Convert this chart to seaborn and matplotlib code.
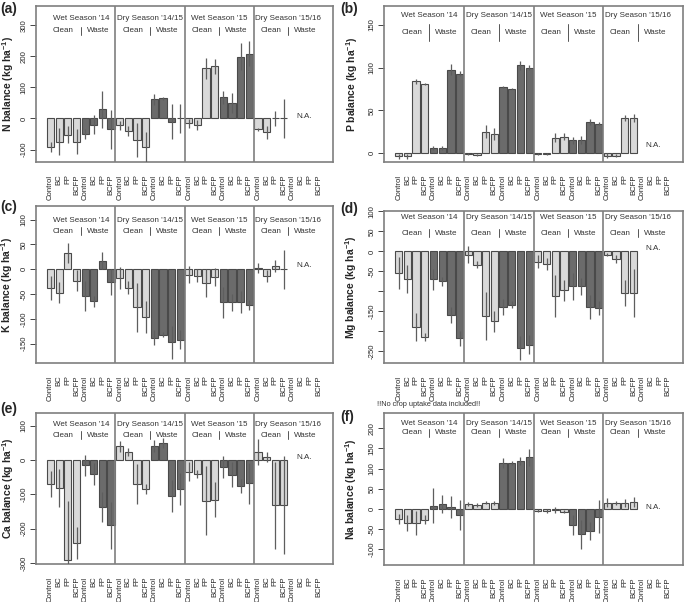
import numpy as np
import pandas as pd
import matplotlib
matplotlib.use("Agg")
import matplotlib.pyplot as plt
import matplotlib.transforms as mtransforms
import seaborn as sns

sns.set_style("white")
plt.rcParams['font.family'] = ['Liberation Sans', 'DejaVu Sans']
plt.rcParams['axes.unicode_minus'] = False
plt.rcParams['mathtext.fontset'] = 'custom'
plt.rcParams['mathtext.bf'] = 'Liberation Sans:bold'
plt.rcParams['mathtext.rm'] = 'Liberation Sans'
plt.rcParams['mathtext.default'] = 'bf'

# ---- data -------------------------------------------------------------
seasons = ["Wet Season '14", "Dry Season '14/15", "Wet Season '15", "Dry Season '15/16"]
groups = ["Clean", "Waste"]
treatments = ["Control", "BC", "FP", "BCFP"]
NA = np.nan

# order: season -> Clean(Control,BC,FP,BCFP) -> Waste(Control,BC,FP,BCFP)
n_mean = [-92, -75, -52, -75, -50, -20, 30, -35,
          -22, -40, -70, -92, 62, 65, -10, 0,
          -16, -21, 161, 168, 68, 50, 199, 209,
          -35, -45, 0, 0, NA, NA, NA, NA]
n_err = [17, 43, 28, 40, 15, 30, 60, 62,
         15, 15, 55, 48, 17, 5, 56, 48,
         15, 15, 33, 25, 22, 33, 43, 39,
         6, 20, 23, 63, NA, NA, NA, NA]

p_mean = [-4, -4, 84, 80.5, 6, 6, 97.6, 93,
          -1.5, -2.5, 25, 22.7, 77.3, 75.4, 102.7, 100,
          -1.5, -1.5, 18, 19, 15, 15.5, 36.3, 34.4,
          -3, -3, 41, 41, NA, NA, NA, NA]
p_err = [3, 3, 3, 1, 2, 2, 6, 3,
         1, 1, 8, 7, 1, 0.5, 5, 3,
         1, 1, 5, 4, 4, 5, 4, 2,
         3, 2, 4, 5, NA, NA, NA, NA]

k_mean = [-37.6, -47, 32, -23, -54, -65, 17.5, -25.5,
          -18, -37, -76.5, -96.6, -137.6, -132, -147, -142,
          -11.4, -13.4, -27, -16, -67, -67, -66, -72,
          2, -13, 6.7, 0, NA, NA, NA, NA]
k_err = [24, 21, 20, 21, 30, 11, 17, 26,
         22, 13, 49, 32, 16, 5, 33, 19,
         17, 13, 28, 18, 31, 18, 23, 11,
         10, 12, 12, 39, NA, NA, NA, NA]

mg_mean = [-54.5, -70, -188, -213, -70, -75, -160, -217,
           -8, -33, -161, -175, -139, -133, -242, -233,
           -25.6, -31, -112, -97.5, -87.6, -87.6, -139, -141,
           -8, -19, -104, -104, NA, NA, NA, NA]
mg_err = [40, 35, 35, 10, 26, 11, 20, 19,
          22, 8, 60, 27, 19, 9, 30, 24,
          16, 15, 53, 26, 33, 21, 29, 17,
          4, 9, 32, 60, NA, NA, NA, NA]

ca_mean = [-69, -82, -290, -241, -14.6, -40, -135.6, -190,
           41, 23.4, -69, -85, 41, 50, -104, -85,
           -34, -40, -118, -116, -20.5, -42, -75, -68,
           23.4, 8.8, -132, -132, NA, NA, NA, NA]
ca_err = [38, 55, 172, 46, 31, 32, 44, 68,
          16, 12, 58, 15, 18, 14, 47, 47,
          28, 12, 100, 51, 33, 36, 20, 60,
          38, 15, 128, 143, NA, NA, NA, NA]

na_mean = [-25, -35.7, -34, -27, 8.3, 11.6, 5, -15,
           11.6, 10.8, 15.8, 14, 113.6, 115, 119, 128.5,
           -4, -5, -2.5, -6.6, -40, -63, -54, -19,
           15.8, 14, 15.8, 18, NA, NA, NA, NA]
na_err = [12, 20, 30, 11, 43, 22, 27, 36,
          5, 5, 3, 5, 13, 5, 11, 21,
          4, 5, 8, 3, 25, 36, 22, 41,
          12, 5, 10, 12, NA, NA, NA, NA]

panel_letters = ["(a)", "(b)", "(c)", "(d)", "(e)", "(f)"]
elements = ["N", "P", "K", "Mg", "Ca", "Na"]
means = [n_mean, p_mean, k_mean, mg_mean, ca_mean, na_mean]
errs = [n_err, p_err, k_err, mg_err, ca_err, na_err]
y_ticks = [[-100, 0, 100, 200, 300],
           [0, 50, 100, 150],
           [-150, -100, -50, 0, 50, 100],
           [-250, -200, -150, -100, -50, 0, 50, 100],
           [-300, -200, -100, 0, 100],
           [-100, -50, 0, 50, 100, 150, 200]]
# R drops labels that would overlap; (d) shows only some of them
y_ticklabels = [[str(v) for v in t] for t in y_ticks]
y_ticklabels[3] = ["-250", "", "-150", "", "-50", "0", "50", "100"]
y_lims = [(-140, 362), (-10.5, 172), (-189, 127.5), (-279, 101), (-303, 137.6), (-139, 238)]
na_label_y = [5, 8.5, 6.7, 6, 8, 4]

# ---- layout (pixel boxes: left, top, right, bottom) ------------------
W, H = 685, 602
boxes = [(36, 6, 333, 162), (384, 6, 683, 162),
         (36, 206, 333, 363), (384, 211, 683, 363),
         (36, 413, 333, 564), (384, 413, 683, 565)]
letter_pos = [(0, 2), (340, 2), (0, 200), (340, 202), (0, 402), (340, 410)]
title_y = [0.921, 0.936, 0.91, 0.954, 0.927, 0.934]
sub_y = [0.84, 0.83, 0.84, 0.855, 0.854, 0.87]
sep_half = [0.025, 0.055, 0.027, 0.025, 0.025, 0.025]
ylab_x = [-0.069, -0.079, -0.070, -0.085, -0.069, -0.082]

clean_col = "#d9d9d9"
waste_col = "#6b6b6b"
frame_col = "#7f7f7f"
txt_col = "#333333"

xlabels = treatments * 8
grp_col = (["Clean"] * 4 + ["Waste"] * 4) * 4

fig = plt.figure(figsize=(W / 100, H / 100), dpi=100)

for i in range(6):
    l, t, r, b = boxes[i]
    ax = fig.add_axes([l / W, 1 - b / H, (r - l) / W, (b - t) / H])

    df = pd.DataFrame({"pos": np.arange(32), "value": means[i], "err": errs[i],
                       "group": grp_col})
    df = df.dropna()

    sns.barplot(data=df, x="pos", y="value", hue="group", native_scale=True,
                dodge=False, width=1 / 1.2, errorbar=None,
                palette={"Clean": clean_col, "Waste": waste_col},
                edgecolor="#4a4a4a", linewidth=0.8, legend=False, ax=ax)
    ax.errorbar(df["pos"], df["value"], yerr=df["err"], fmt="none",
                ecolor="#5e5e5e", elinewidth=0.9, capsize=0, zorder=4)

    ax.set_xlim(-1.69, 32.69)
    ax.set_ylim(*y_lims[i])

    # season dividers
    for xd in [7.5, 15.5, 23.5]:
        ax.axvline(xd, color=frame_col, lw=1.2, zorder=5)
    for s in ax.spines.values():
        s.set_color(frame_col)
        s.set_linewidth(1.2)

    trans = mtransforms.blended_transform_factory(ax.transData, ax.transAxes)
    for k, season in enumerate(seasons):
        c = 3.5 + 8 * k
        ax.text(c, title_y[i], season, transform=trans, ha="center", va="center",
                fontsize=5.8, color=txt_col)
        ax.text(c - 2, sub_y[i], groups[0], transform=trans, ha="center", va="center",
                fontsize=5.8, color=txt_col)
        ax.text(c + 2, sub_y[i], groups[1], transform=trans, ha="center", va="center",
                fontsize=5.8, color=txt_col)
        ax.plot([c, c], [sub_y[i] - sep_half[i], sub_y[i] + sep_half[i]], transform=trans,
                color="#555555", lw=0.7, clip_on=False)

    ax.text(29.3, na_label_y[i], "N.A.", ha="center", va="center",
            fontsize=5.8, color=txt_col)

    ax.set_xticks(np.arange(32))
    ax.set_xticklabels(xlabels, rotation=90, fontsize=5.6, va="top", ha="center")
    ax.tick_params(axis="x", length=0, pad=9)
    ax.set_yticks(y_ticks[i])
    ax.set_yticklabels(y_ticklabels[i], rotation=90, va="center", fontsize=5.6)
    ax.tick_params(axis="y", length=4, width=0.7, color="#444444", pad=2,
                   direction="out", left=True)
    ax.set_xlabel("")
    ax.set_ylabel(elements[i] + r" balance (kg ha$^{-1}$)", fontsize=7.5,
                  fontweight="bold")
    ax.yaxis.set_label_coords(ylab_x[i], 0.5)

    lx, ly = letter_pos[i]
    fig.text(lx / W + 0.001, 1 - ly / H, panel_letters[i], fontsize=10,
             fontweight="bold", ha="left", va="top")

fig.text(377 / W, 1 - 404 / H, "!!No crop uptake data included!!", fontsize=5.3,
         color=txt_col, ha="left", va="center")

fig.savefig("out.png", dpi=100)
